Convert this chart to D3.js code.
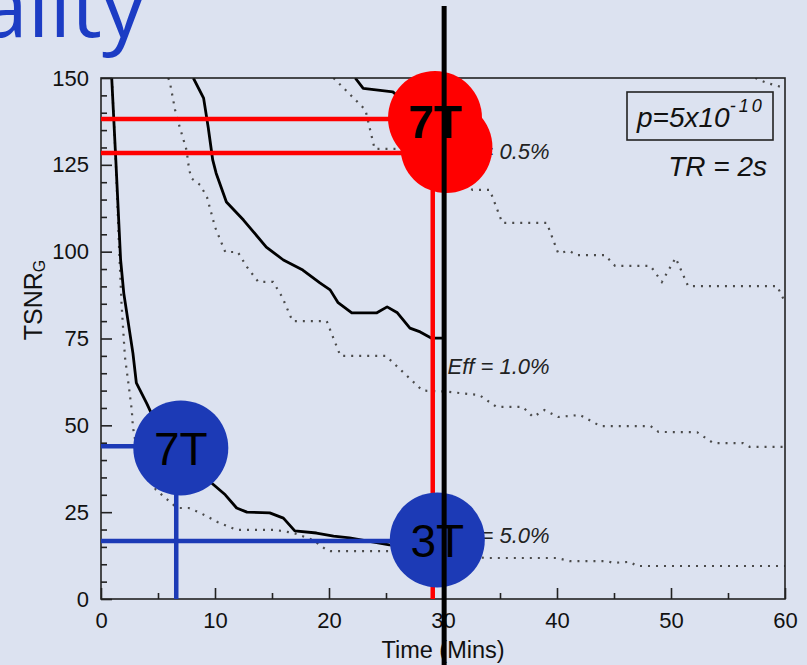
<!DOCTYPE html>
<html>
<head>
<meta charset="utf-8">
<script src="https://cdn.jsdelivr.net/npm/d3@7"></script>
<style>
  body { margin: 0; background: #dce2f0; }
  svg { display: block; }
  text { font-family: "Liberation Sans", Arial, sans-serif; }
</style>
</head>
<body>
<div id="chart"></div>
<script>
// ---- data ----
var xTicks = [0, 10, 20, 30, 40, 50, 60];
var yTicks = [0, 25, 50, 75, 100, 125, 150];

// Eff = 5.0%
var eff5SolidT = [0.94, 1.3, 1.72, 2.0, 2.8, 3.1, 4.0, 4.4, 6.0, 8.0, 9.7, 10.9, 11.9, 12.8, 14.8, 16.0, 17.0, 18.9, 20.4, 21.8, 25.3, 30];
var eff5SolidV = [150, 126.4, 97.6, 88, 70.8, 62.2, 56.4, 53.6, 44, 37, 33.4, 30, 26.2, 25, 24.8, 23.3, 19.6, 19, 18.1, 17.6, 15.6, 15];
var eff5DotT = [0.95, 1.3, 1.6, 1.8, 2.1, 2.4, 2.7, 2.8, 3.3, 4.8, 6.4, 6.9, 7.7, 8.7, 10.2, 11.9, 15.3, 16.9, 18.6, 19.8, 20.1, 25.4, 33.9, 40, 41.1, 44.4, 44.9, 46.4, 47, 60];
var eff5DotV = [150, 126, 100, 85, 69.7, 62.2, 54.4, 49.5, 40, 31.5, 27, 26.2, 26.2, 24.8, 22.2, 19.9, 19.9, 19, 17, 14.1, 13.8, 13.8, 11.8, 11.8, 10.9, 10.9, 10.4, 10.7, 9.5, 9.5];

// Eff = 1.0%
var eff1SolidT = [8.1, 9.0, 9.4, 9.8, 10.1, 11.0, 12.5, 14.5, 16.0, 17.7, 19.2, 20.1, 20.8, 22.0, 24.2, 25.1, 26.0, 27.1, 28.0, 29.0, 30.0];
var eff1SolidV = [150, 144.2, 135.9, 126.4, 122.6, 114.3, 109.1, 101.3, 97.6, 94.7, 91, 89, 85.3, 82.4, 82.4, 84.1, 82.4, 78, 76.9, 75.1, 75.1];
var eff1DotT = [5.9, 6.05, 6.5, 6.9, 7.5, 7.7, 7.9, 8.7, 9.3, 10.0, 10.9, 12.0, 12.8, 13.8, 15.1, 15.9, 16.8, 19.8, 21.0, 25.0, 28.2, 30.3, 33.2, 34.7, 37.0, 37.9, 38.9, 40.1, 42.0, 43.8, 48.2, 48.9, 52.3, 53.7, 56.3, 56.9, 60];
var eff1DotV = [150, 148.6, 140.8, 135.9, 129.3, 124.4, 121.2, 119.2, 115.7, 107.1, 99.9, 99.9, 95.6, 91.3, 91.3, 86.9, 80, 80, 70, 70, 60, 59.7, 58.7, 55.3, 55.3, 52.4, 54.4, 52.4, 53, 49.8, 49.8, 48.1, 48, 44.9, 44.9, 43.8, 43.8];

// Eff = 0.5%
var eff05SolidT = [22.3, 23.0, 25.6, 27.0, 28.5, 30.0];
var eff05SolidV = [150, 147, 146, 142, 134, 127];
var eff05DotT = [20.4, 23.2, 24.0, 26.0, 28.0, 31.0, 32.6, 34.1, 35.2, 39.1, 40.1, 41.1, 41.7, 44.2, 45.1, 48.2, 49.2, 50.4, 50.8, 51.5, 59.3, 60];
var eff05DotV = [150, 140.8, 129.6, 129.6, 126, 121, 117.8, 117.8, 108.3, 108.3, 99.6, 100.2, 99, 99, 95.9, 95.9, 91.3, 98.2, 95.3, 90.1, 90.1, 85.5];

// upper-right dotted piece
var effTopDotT = [57.4, 58.4, 60];
var effTopDotV = [150, 148.6, 147.1];

var effLabels = ['Eff = 0.5%', 'Eff = 1.0%', 'Eff = 5.0%'];
var effLabelT = [30.4, 30.4, 30.4];
var effLabelV = [126.7, 64.8, 16.1];

// annotation markers: [time, TSNR]
var redLevels = [138.2, 128.4];
var redCircleT = [29.3, 30.3];
var redCircleV = [138.5, 130.1];
var redDropT = 29.1;
var blueLabels = ['7T', '3T'];
var blueCircleT = [7.0, 29.5];
var blueCircleV = [43.5, 17.0];
var blueLevels = [44.0, 16.7];
var blueDropT = 6.6;
var cutT = 30.1;

// ---- drawing ----
var width = 807, height = 665;
var m = { left: 101, right: 785, top: 78, bottom: 599 };

var svg = d3.select('#chart').append('svg')
    .attr('width', width)
    .attr('height', height);

var x = d3.scaleLinear().domain([0, 60]).range([m.left, m.right]);
var y = d3.scaleLinear().domain([0, 150]).range([m.bottom, m.top]);

// title fragment
svg.append('text')
    .attr('x', 145)
    .attr('y', 37)
    .attr('text-anchor', 'end')
    .style('font-family', '"Open Sans", sans-serif')
    .style('font-size', '86px')
    .style('fill', '#1c3cc4')
    .text('ality');

svg.append('clipPath').attr('id', 'plot')
    .append('rect')
    .attr('x', m.left).attr('y', m.top)
    .attr('width', m.right - m.left).attr('height', m.bottom - m.top);

var line = d3.line()
    .x(function (d) { return x(d[0]); })
    .y(function (d) { return y(d[1]); });

var curves = svg.append('g').attr('clip-path', 'url(#plot)');

var dotted = [
    d3.zip(eff5DotT, eff5DotV),
    d3.zip(eff1DotT, eff1DotV),
    d3.zip(eff05DotT, eff05DotV),
    d3.zip(effTopDotT, effTopDotV)
];
var solid = [
    d3.zip(eff5SolidT, eff5SolidV),
    d3.zip(eff1SolidT, eff1SolidV),
    d3.zip(eff05SolidT, eff05SolidV)
];

curves.selectAll('.dot')
    .data(dotted)
    .enter()
    .append('path')
    .attr('class', 'dot')
    .attr('d', line)
    .attr('fill', 'none')
    .attr('stroke', '#4a4a4a')
    .attr('stroke-width', 2.2)
    .attr('stroke-dasharray', '2 6');

curves.selectAll('.solid')
    .data(solid)
    .enter()
    .append('path')
    .attr('class', 'solid')
    .attr('d', line)
    .attr('fill', 'none')
    .attr('stroke', '#000')
    .attr('stroke-width', 2.8)
    .attr('stroke-linejoin', 'round');

// axes (ticks inward)
var xAxis = svg.append('g')
    .attr('transform', 'translate(0,' + m.bottom + ')')
    .call(d3.axisBottom(x).tickValues(xTicks).tickSizeInner(-11).tickSizeOuter(0).tickPadding(13));
var xMinor = svg.append('g')
    .attr('transform', 'translate(0,' + m.bottom + ')')
    .call(d3.axisBottom(x).tickValues(d3.range(5, 60, 10)).tickSize(-6).tickFormat(''));
var yAxis = svg.append('g')
    .attr('transform', 'translate(' + m.left + ',0)')
    .call(d3.axisLeft(y).tickValues(yTicks).tickSizeInner(-11).tickSizeOuter(0).tickPadding(12));
var yMinor = svg.append('g')
    .attr('transform', 'translate(' + m.left + ',0)')
    .call(d3.axisLeft(y).tickValues(d3.range(5, 150, 5).filter(function (v) { return v % 25 !== 0; })).tickSize(-6).tickFormat(''));

[xAxis, xMinor, yAxis, yMinor].forEach(function (g) {
    g.select('.domain').remove();
    g.selectAll('line').attr('stroke', '#222').attr('stroke-width', 1.6);
    g.selectAll('text').style('font-size', '22px').style('fill', '#111')
        .style('font-family', '"Liberation Sans", Arial, sans-serif');
});

svg.append('rect')
    .attr('x', m.left).attr('y', m.top)
    .attr('width', m.right - m.left).attr('height', m.bottom - m.top)
    .attr('fill', 'none')
    .attr('stroke', '#222')
    .attr('stroke-width', 1.6);

// axis titles
svg.append('text')
    .attr('x', x(30))
    .attr('y', 658)
    .attr('text-anchor', 'middle')
    .style('font-size', '23.5px')
    .style('fill', '#111')
    .text('Time (Mins)');

var yTitle = svg.append('text')
    .attr('transform', 'translate(42,300) rotate(-90)')
    .attr('text-anchor', 'middle')
    .style('font-size', '25px')
    .style('fill', '#111');
yTitle.append('tspan').text('TSNR');
yTitle.append('tspan').attr('dy', 3).style('font-size', '16px').text('G');

// curve labels
svg.selectAll('.eff')
    .data(effLabels)
    .enter()
    .append('text')
    .attr('class', 'eff')
    .attr('x', function (d, i) { return x(effLabelT[i]); })
    .attr('y', function (d, i) { return y(effLabelV[i]); })
    .style('font-size', '22px')
    .style('font-style', 'italic')
    .style('fill', '#222')
    .text(function (d) { return d; });

// p / TR box
svg.append('rect')
    .attr('x', 627).attr('y', 92)
    .attr('width', 146).attr('height', 48)
    .attr('fill', 'none')
    .attr('stroke', '#222')
    .attr('stroke-width', 1.6);
var pText = svg.append('text')
    .attr('x', 637).attr('y', 127)
    .style('font-size', '28px')
    .style('font-style', 'italic')
    .style('fill', '#111');
pText.append('tspan').text('p=5x10');
pText.append('tspan').attr('dy', -15).style('font-size', '18px').style('letter-spacing', '3px').text('-10');
svg.append('text')
    .attr('x', 767).attr('y', 176)
    .attr('text-anchor', 'end')
    .style('font-size', '28px')
    .style('font-style', 'italic')
    .style('fill', '#111')
    .text('TR = 2s');

// red markers
var red = '#ff0000', blue = '#1c3ab6';
svg.selectAll('.redh')
    .data(redLevels)
    .enter()
    .append('line')
    .attr('x1', x(0)).attr('x2', function (d, i) { return x(redCircleT[i]); })
    .attr('y1', function (d) { return y(d); }).attr('y2', function (d) { return y(d); })
    .attr('stroke', red).attr('stroke-width', 4.5);
svg.append('line')
    .attr('x1', x(redDropT)).attr('x2', x(redDropT))
    .attr('y1', y(0)).attr('y2', y(redCircleV[1]))
    .attr('stroke', red).attr('stroke-width', 4.5);

// blue markers
svg.selectAll('.blueh')
    .data(blueLevels)
    .enter()
    .append('line')
    .attr('x1', x(0)).attr('x2', function (d, i) { return x(blueCircleT[i]); })
    .attr('y1', function (d) { return y(d); }).attr('y2', function (d) { return y(d); })
    .attr('stroke', blue).attr('stroke-width', 4.5);
svg.append('line')
    .attr('x1', x(blueDropT)).attr('x2', x(blueDropT))
    .attr('y1', y(0)).attr('y2', y(blueCircleV[0]))
    .attr('stroke', blue).attr('stroke-width', 4.5);

svg.selectAll('.redc')
    .data(redCircleT)
    .enter()
    .append('circle')
    .attr('cx', function (d) { return x(d); })
    .attr('cy', function (d, i) { return y(redCircleV[i]); })
    .attr('r', function (d, i) { return i === 0 ? 47 : 46; })
    .attr('fill', red);
svg.append('text')
    .attr('x', x(redCircleT[0]))
    .attr('y', y(redCircleV[0]) + 20)
    .attr('text-anchor', 'middle')
    .style('font-size', '46px')
    .style('font-weight', 'bold')
    .style('fill', '#000')
    .text('7T');

var blueG = svg.selectAll('.bluec')
    .data(blueLabels)
    .enter()
    .append('g')
    .attr('transform', function (d, i) {
        return 'translate(' + x(blueCircleT[i]) + ',' + y(blueCircleV[i]) + ')';
    });
blueG.append('circle')
    .attr('r', 47.5)
    .attr('fill', blue);
blueG.append('text')
    .attr('y', 17)
    .attr('text-anchor', 'middle')
    .style('font-size', '46px')
    .style('fill', '#000')
    .text(function (d) { return d; });

// black cut line over everything
svg.append('line')
    .attr('x1', x(cutT)).attr('x2', x(cutT))
    .attr('y1', 6).attr('y2', height)
    .attr('stroke', '#000')
    .attr('stroke-width', 5);
</script>
</body>
</html>
